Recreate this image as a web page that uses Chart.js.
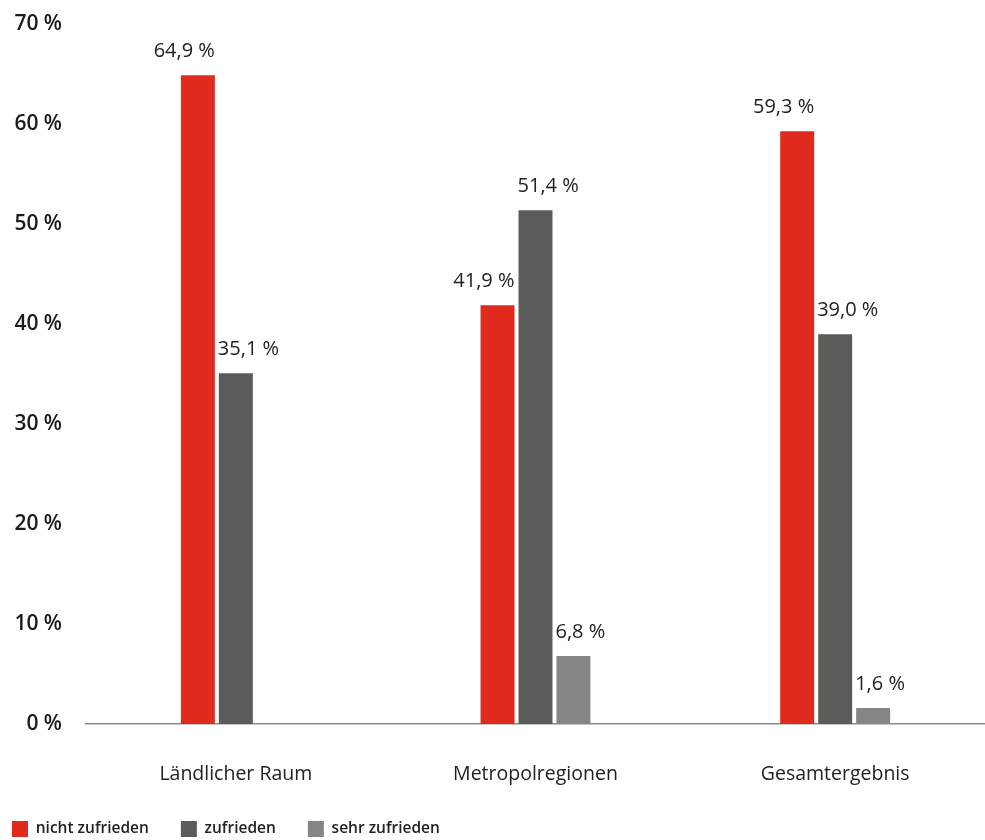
<!DOCTYPE html>
<html>
<head>
<meta charset="utf-8">
<script src="https://cdn.jsdelivr.net/npm/chart.js@4"></script>
<style>
  html, body { margin: 0; padding: 0; background: #fff; }
  #wrap { width: 985px; height: 840px; position: relative; }
</style>
</head>
<body>
<div id="wrap"><canvas id="chart"></canvas></div>
<script>
// Zufriedenheit nach Region
const categories = ['Ländlicher Raum', 'Metropolregionen', 'Gesamtergebnis'];
const nichtZufrieden = [64.9, 41.9, 59.3];
const zufrieden = [35.1, 51.4, 39.0];
const sehrZufrieden = [null, 6.8, 1.6];
const yTicks = [0, 10, 20, 30, 40, 50, 60, 70];

const COLORS = {
  red: '#DF2A1D',
  dark: '#5B5B5A',
  light: '#858585',
  axis: '#8a8a8a',
  text: '#1a1a1a'
};

const fmt = v => v.toFixed(1).replace('.', ',') + ' %';

// value labels above the bars: first series right-aligned to the bar, others left-aligned
const barLabels = {
  id: 'barLabels',
  afterDatasetsDraw(chart) {
    const ctx = chart.ctx;
    ctx.save();
    ctx.font = '400 20px "Open Sans"';
    ctx.fillStyle = '#222';
    ctx.textBaseline = 'middle';
    chart.data.datasets.forEach((ds, i) => {
      chart.getDatasetMeta(i).data.forEach((bar, j) => {
        const v = ds.data[j];
        if (v == null) return;
        if (i === 0) {
          ctx.textAlign = 'right';
          ctx.fillText(fmt(v), bar.x + bar.width / 2, bar.y - 24);
        } else {
          ctx.textAlign = 'left';
          ctx.fillText(fmt(v), bar.x - bar.width / 2 - 1, bar.y - 24);
        }
      });
    });
    ctx.restore();
  }
};

const barOpts = { categoryPercentage: 0.38, barPercentage: 0.895, borderWidth: 0 };

new Chart(document.getElementById('chart'), {
  type: 'bar',
  data: {
    labels: categories,
    datasets: [
      { label: 'nicht zufrieden', data: nichtZufrieden, backgroundColor: COLORS.red, ...barOpts },
      { label: 'zufrieden', data: zufrieden, backgroundColor: COLORS.dark, ...barOpts },
      { label: 'sehr zufrieden', data: sehrZufrieden, backgroundColor: COLORS.light, ...barOpts }
    ]
  },
  options: {
    responsive: true,
    maintainAspectRatio: false,
    animation: false,
    layout: { padding: { top: 20, left: -20, right: -3, bottom: -7 } },
    plugins: {
      tooltip: { enabled: false },
      legend: {
        position: 'bottom',
        align: 'start',
        labels: {
          boxWidth: 16,
          boxHeight: 16,
          padding: 32,
          color: '#222',
          font: { family: 'Open Sans', size: 15.5, weight: '600' }
        }
      }
    },
    scales: {
      x: {
        afterFit: s => { s.height = 65; },
        grid: { display: false },
        border: { display: true, color: COLORS.axis, width: 1.5 },
        ticks: { color: '#222', padding: 31, font: { family: 'Open Sans', size: 19.5 } }
      },
      y: {
        min: 0,
        max: 70,
        afterFit: s => { s.width = 106; },
        afterBuildTicks: s => { s.ticks = yTicks.map(v => ({ value: v })); },
        grid: { display: false },
        border: { display: false },
        ticks: {
          color: COLORS.text,
          padding: 16,
          font: { family: 'Open Sans', size: 21, weight: '600', lineHeight: 0.8 },
          callback: v => v + ' %'
        }
      }
    }
  },
  plugins: [barLabels]
});
</script>
</body>
</html>
